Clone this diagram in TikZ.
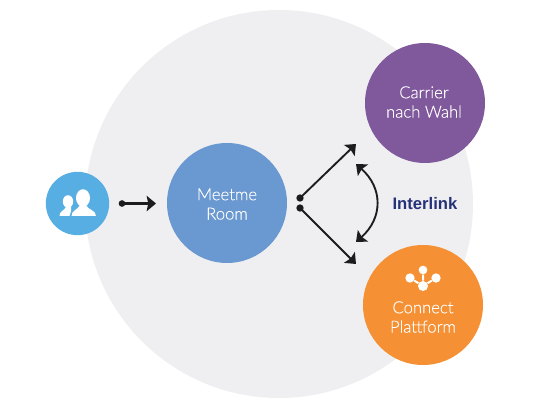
\documentclass[tikz,border=0pt]{standalone}
\usepackage{fontspec}
\setmainfont{Liberation Sans}
\newfontfamily\lightf[FakeBold=0.2]{Lato Light}
\usetikzlibrary{arrows.meta}
\definecolor{bigc}{RGB}{239,239,241}
\definecolor{blueL}{RGB}{86,174,226}
\definecolor{meet}{RGB}{106,152,208}
\definecolor{purp}{RGB}{128,88,156}
\definecolor{oran}{RGB}{245,145,52}
\definecolor{navy}{RGB}{38,50,120}
\definecolor{ink}{RGB}{28,28,30}
\tikzset{
  disc/.style={circle,inner sep=0pt,draw=none,align=center,text=white},
  lab/.style={text=white,align=center,font=\lightf\fontsize{12.5}{14.5}\selectfont},
  dotn/.style={circle,fill=ink,inner sep=0pt,minimum size=5.5pt},
  headtip/.tip={Stealth[length=7pt,width=11.5pt,inset=1.2pt]},
  arr/.style={draw=ink,line width=1.4pt,-headtip},
  hub/.style={circle,fill=white,inner sep=0pt,minimum size=7pt}
}
\begin{document}
\begin{tikzpicture}[x=0.75pt,y=-0.75pt]
\useasboundingbox (0,0) rectangle (540,410);
\node[disc,fill=bigc,minimum size=291pt] (big) at (279,204) {};
\node[disc,fill=blueL,minimum size=47.5pt] (user) at (77.5,203.5) {};
\node[disc,fill=meet,minimum size=90pt] (meet) at (227,203) {};
\node[disc,fill=purp,minimum size=90pt] (carrier) at (425,103) {};
\node[disc,fill=oran,minimum size=90pt] (conn) at (423,305) {};
\node[lab] (meett) at (227,204) {Meetme\\Room};
\node[lab] (carriert) at (424,102) {Carrier\\nach Wahl};
\node[lab] (connt) at (423,317) {Connect\\Plattform};
\node[font=\bfseries\fontsize{12.5}{15}\selectfont,text=navy] (il) at (425,204) {Interlink};
% people icon
\fill[white] (68,201.5) ellipse (5.2 and 6.3);
\fill[white] (59.5,216) .. controls (59.5,211) and (64,211) .. (66,207) -- (71,207) .. controls (72,209) and (71,211) .. (69.5,216) -- cycle;
\fill[white] (83,198) ellipse (7 and 8.8);
\fill[white] (71.5,216) .. controls (71.5,210) and (78,210) .. (80,205) -- (86,205) .. controls (88,210) and (96,210) .. (96,216) -- cycle;
% arrows
\node[dotn,minimum size=5pt] (d0) at (122,203.5) {};
\coordinate (d0e) at (156,203.5);
\draw[arr,line width=1.6pt] (d0.center) -- (d0e);
\node[dotn] (d1) at (300,198) {};
\node[dotn] (d2) at (300,208) {};
\coordinate (a1) at (356,144);
\coordinate (a2) at (356,264);
\coordinate (c1) at (356,164);
\coordinate (c2) at (356,242);
\draw[arr] (d1.center) -- (a1);
\draw[arr] (d2.center) -- (a2);
\draw[arr,headtip-headtip] (c1) .. controls (383,188) and (383,218) .. (c2);
% hub icon
\node[hub,minimum size=6.5pt] (h1) at (423,270) {};
\node[hub] (h2) at (410,278) {};
\node[hub] (h3) at (436,278) {};
\node[hub,minimum size=7.5pt] (h4) at (423,286) {};
\draw[white,line width=1.5pt] (h1)--(h4) (h2)--(h4) (h3)--(h4);
\end{tikzpicture}
\end{document}
